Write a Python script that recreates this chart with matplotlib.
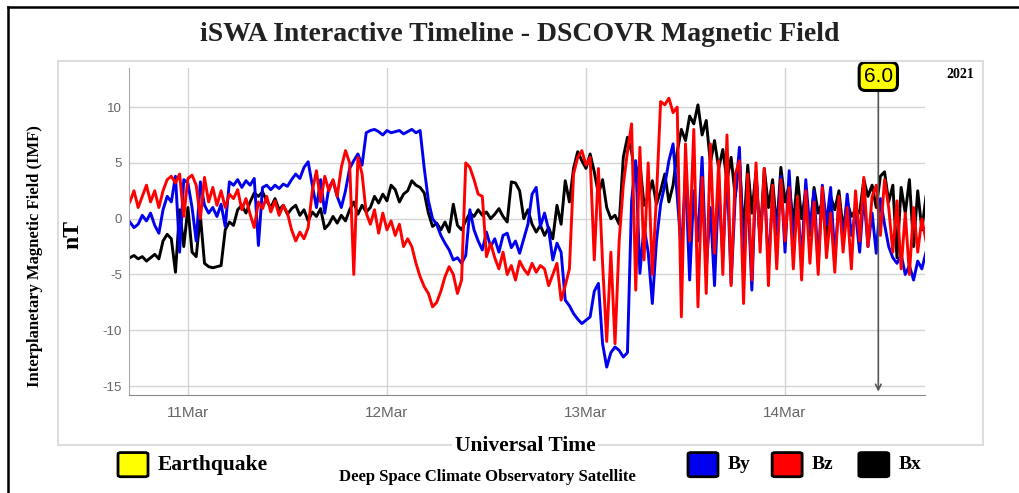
import matplotlib
matplotlib.use("Agg")
import matplotlib.pyplot as plt
import matplotlib.dates as mdates
from matplotlib.patches import Rectangle, FancyBboxPatch
from matplotlib.lines import Line2D
import pandas as pd

plt.rcParams["axes.unicode_minus"] = False

# IMF components in nT, one value every 30 min from 10 Mar 2021 17:00 UT
bx = [-3.5, -3.3, -3.6, -3.4, -3.8, -3.5, -3.2, -3.6,
      -2.0, -1.4, -1.8, -4.8, 0.8, -2.5, 1.0, -3.0, -3.4, 0.3,
      -4.0, -4.3, -4.4, -4.3, -4.2, -1.0, -0.3, -0.6,
      0.8, 1.2, 0.5, 1.5, 2.3, 2.0, 2.4, 1.6, 1.0, 1.8, 0.8, 1.2, 0.4, 0.9,
      1.2, 0.3, 0.8, -0.2, 0.6, 0.2, 0.9, -0.9, -0.5, 0.2,
      -0.4, 0.3, -0.2, 0.8, 1.5, 0.4, 1.2, 0.6,
      1.0, 2.0, 1.4, 2.2, 1.6,
      3.0, 2.6, 1.5, 2.2, 2.5, 3.4, 3.0, 2.8, 2.3,
      0.5, -0.7, -0.4,
      -1.0, -0.3, -1.2, 1.3, -0.6, -1.0, -0.2,
      0.5, 0.2, 0.8, 0.3, 0.6, 0.0, 0.4, 0.9, 0.2, -0.3,
      3.3, 3.2, 2.5,
      0.0, 0.8, -0.5, -1.2, -0.6, -1.5, -0.8, -1.8,
      1.2, -0.5, 3.4, 1.5,
      4.5, 6.0, 5.2, 4.5, 5.8, 4.2,
      2.2, 3.5, 1.0, 0.0,
      0.3, -0.5, 5.5, 7.3, 6.0,
      3.5, 5.0, 1.2, 2.0, 3.4, 1.3, 2.5,
      4.0, 1.5, 3.0, 6.0,
      8.0, 7.0, 9.2, 8.5, 10.2,
      7.5, 8.8, 5.0, 7.0, 4.5, 6.2, 3.4, 5.5, 2.0,
      5.3, -1.5, 4.8, 0.5, 4.2, -2.0, 4.5, 1.0, 3.5, -1.0, 4.6, 1.5,
      3.0, -0.5, 3.7, 0.0, 2.5, -1.5, 2.8, 0.5, 1.5, -2.0, 2.0, 0.8,
      2.5, -1.0, 1.5, 0.2, 0.8, 0.5,
      3.5, 2.0, 3.0, 1.0, 3.8, 4.2, 1.5, 3.0, -3.5, 2.8, 0.5, 3.5,
      -2.5, 2.5, -1.0, 2.0]

by = [-0.3, -0.8, -0.5, 0.3, -0.2, 0.5, -0.6, -1.3,
      0.8, 2.0, 1.5, 3.8, -3.0, 3.5,
      3.2, 1.0, -2.0, 3.3,
      1.2, 0.5, 1.0, 0.2, 1.3, -0.7,
      3.3, 3.0, 3.5, 2.8, 3.4, 3.0, 3.6, -2.4,
      2.8, 3.0, 2.6, 3.0, 2.7, 3.1, 2.9,
      3.5, 4.0, 3.6, 4.6, 5.1,
      3.0, 1.0, 3.5, 0.5, 2.8, 3.4,
      2.0, 1.0, 2.5, 4.5, 5.2, 5.8, 4.8,
      7.7, 7.9, 8.0, 7.8, 7.5, 7.9, 7.7, 7.8, 7.9, 7.6, 7.8, 8.0, 7.7, 7.9,
      4.5, 1.6, 0.0,
      -0.5, -1.5, -2.2, -2.8, -3.7, -3.5, -4.0, -3.3, 0.8,
      -1.0, -2.0, -2.8, -1.2, -2.5, -1.8, -3.0, -1.5, -1.3, -2.6, -2.0, -3.1, -1.8,
      -0.5, 2.2, 2.8, -0.7, 0.5, -1.0, -3.7, -2.2, -3.0,
      -7.3, -7.8, -8.5, -9.0, -9.4, -9.1, -8.8, -6.5, -5.8,
      -11.2, -13.3, -12.0, -11.5, -11.8, -12.4, -12.0,
      1.6, 5.2, -4.9, -0.7, -3.0, -7.6, -2.0, 1.3,
      3.0, 5.2, 6.7, 2.0,
      -3.0, 4.0, -5.5, 2.5, -2.0, 5.5, -4.5, 1.0, -6.0, 3.0, -3.5, 4.5, -5.8, 2.0,
      6.4, -4.0, 2.5, -6.4, 4.0, -2.0, 3.5, -4.3, 2.0, -1.5, 3.8, -3.0,
      4.3, -2.5, 1.5, -3.8, 3.5, -1.0, 2.5, -4.0, 3.0, -0.5, 2.8, -3.5,
      1.5, -2.0, 2.2, -1.5, 0.5, -3.0,
      2.2, -2.5, 0.5, -3.1, 1.8, -0.5, -2.5, -3.5, -4.0, -3.2, -5.0, -4.2,
      -5.5, -3.8, -4.5, -3.0]

bz = [1.5, 2.5, 1.0, 2.0, 3.0, 1.5, 2.5, 1.0, 2.5,
      3.5, 3.8, 3.2, 4.0, 0.2, 3.6, 3.9, 3.0, 0.0, 3.7,
      1.5, 2.8, 1.2, 2.5, 1.0, 2.2, 1.8, 2.6,
      0.8, 1.8, 0.4, -0.8, 1.5, 0.9, 2.0, 0.6, 1.6, 0.3, 1.2, 0.5,
      -1.0, -2.0, -1.2, -1.8, -0.8,
      2.5, 4.3, 1.5, 3.8, 2.5, 3.5,
      2.0, 4.6, 6.1, 5.0, -5.0, 5.5, 4.0, 0.5,
      -0.5, 0.8, -1.3, 0.5, -1.0,
      -0.2, -1.5, -0.5, -2.5, -1.8,
      -2.5, -4.0, -5.2, -6.1, -6.7, -7.9, -7.5,
      -6.5, -5.2, -4.3, -5.0, -6.7, -5.5,
      5.0, 4.6, 3.5, 2.2, 2.0, -3.4,
      -2.2, -3.5, -4.5, -3.0, -5.0, -4.2, -5.5, -3.8, -4.5, -5.0, -4.0, -4.8, -4.2,
      -4.5, -6.0, -5.0, -4.0, -7.3, -6.0, -4.5,
      4.0, 5.5, 6.1, 4.8, 5.5, -3.7, 4.5,
      -4.0, -11.0, -3.0, -11.2, -2.0,
      3.0, 6.0, 8.5,
      -6.4, 6.4, -3.7, 5.0, -5.0, 2.0,
      10.5, 10.2, 10.8, 9.5, 10.0,
      -8.8, 6.7, -2.0, 8.0, -7.9, 3.7, -6.7, 6.7, -3.1, 5.2, -5.0, 7.5, -6.0, 4.0,
      5.2, -7.6, 4.0, -5.5, 5.0, -3.0, 4.5, -6.0, 3.0, -4.5, 3.5, -2.0,
      2.8, -4.5, 2.0, -5.5, 2.5, -4.0, 1.5, -5.0, 2.8, -3.5, 0.5, -4.8,
      2.0, -3.0, 1.0, -4.5, 2.5, -2.0,
      3.7, -2.5, 2.0, 3.0, -1.5, 3.5, 1.0, -3.0, 1.6, -4.5, 0.5, -5.0,
      1.0, -3.0, 0.0, -2.0]

start = "2021-03-10 17:00"
quake_time = pd.Timestamp("2021-03-14 11:15")
quake_mag = "6.0"

serif = "Liberation Serif"
sans = "Liberation Sans"

fig = plt.figure(figsize=(10.2, 4.93), dpi=100)
ax = fig.add_axes([0.1265, 0.1988, 0.7804, 0.6632])

series = [(bx, "#000000"), (by, "#0000ee"), (bz, "#ff0000")]
for vals, col in series:
    t = pd.date_range(start, periods=len(vals), freq="30min")
    ax.plot(t, vals, color=col, lw=2.1)

ax.set_xlim(pd.Timestamp("2021-03-10 16:54"), pd.Timestamp("2021-03-14 16:53"))
ax.set_ylim(-15.8, 13.5)
ax.set_yticks([-15, -10, -5, 0, 5, 10])
ax.xaxis.set_major_locator(mdates.DayLocator())
ax.xaxis.set_major_formatter(mdates.DateFormatter("%d%b"))
ax.grid(True, color="#d4d4d4", lw=1)
ax.set_axisbelow(True)
for s in ["top", "right"]:
    ax.spines[s].set_visible(False)
ax.spines["left"].set_color("#aaaaaa")
ax.spines["bottom"].set_color("#888888")
ax.tick_params(length=0, labelcolor="#666666")
ax.tick_params(axis="y", pad=5, labelsize=9.5)
ax.tick_params(axis="x", pad=8, labelsize=11)
for lab in ax.get_xticklabels() + ax.get_yticklabels():
    lab.set_family(sans)

# earthquake marker
ax.annotate("", xy=(quake_time, -15.75), xytext=(quake_time, 11.6),
            arrowprops=dict(arrowstyle="->", color="#555555", lw=1.2))
ax.text(quake_time, 12.75, quake_mag, ha="center", va="center", fontsize=15,
        family=sans, clip_on=False,
        bbox=dict(boxstyle="round,pad=0.22,rounding_size=0.3",
                  fc="#ffff00", ec="black", lw=2.2))

# panel frames
fig.patches.append(Rectangle((0.0569, 0.0974), 0.9068, 0.7789, transform=fig.transFigure,
                             fill=False, ec="#dddddd", lw=1.5))
fig.lines.append(Line2D([0.0078, 1.0], [0.9858, 0.9858], transform=fig.transFigure,
                        color="black", lw=1.8))
fig.lines.append(Line2D([0.0078, 0.0078], [0.0, 0.9858], transform=fig.transFigure,
                        color="black", lw=1.8))

fig.text(0.51, 0.931, "iSWA Interactive Timeline - DSCOVR Magnetic Field",
         ha="center", va="center", fontsize=20, fontweight="bold", family=serif,
         color="#222222")
fig.text(0.9415, 0.848, "2021", ha="center", va="center", fontsize=10,
         fontweight="bold", family=serif)
fig.text(0.034, 0.48, "Interplanetary Magnetic Field (IMF)", rotation=90,
         ha="center", va="center", fontsize=12, fontweight="bold", family=serif)
fig.text(0.071, 0.525, "nT", rotation=90, ha="center", va="center",
         fontsize=17, fontweight="bold", family=serif)
fig.text(0.515, 0.095, "Universal Time", ha="center", va="center", fontsize=15.5,
         fontweight="bold", family=serif,
         bbox=dict(fc="white", ec="none", pad=2))
fig.text(0.478, 0.032, "Deep Space Climate Observatory Satellite", ha="center",
         va="center", fontsize=12, fontweight="bold", family=serif)

# legend boxes
legend_items = [("Earthquake", "#ffff00", 0.1157), ("By", "#0000ee", 0.6745),
                ("Bz", "#ff0000", 0.757), ("Bx", "#000000", 0.842)]
for name, col, x0 in legend_items:
    fig.patches.append(FancyBboxPatch((x0, 0.033), 0.0294, 0.049,
                                      boxstyle="round,pad=0,rounding_size=0.003",
                                      transform=fig.transFigure, fc=col, ec="black", lw=2))
    fig.text(x0 + 0.039, 0.057, name, ha="left", va="center",
             fontsize=15.5 if name == "Earthquake" else 14,
             fontweight="bold", family=serif)

fig.savefig("out.png", dpi=100)
